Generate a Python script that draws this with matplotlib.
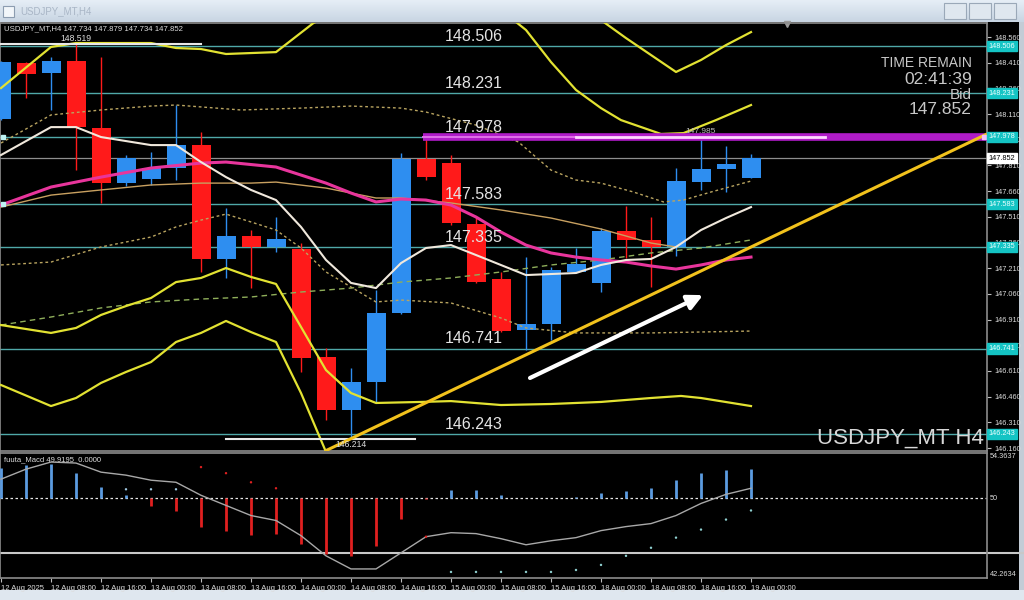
import matplotlib
matplotlib.use("Agg")
import matplotlib.pyplot as plt
import numpy as np
from matplotlib.patches import Rectangle

plt.rcParams["font.family"] = ["Liberation Sans", "DejaVu Sans"]

W, H = 1024, 600

# ---- USDJPY_MT H4 candles, bar 0 = 12 Aug 2025 00:00 ----
opens = [148.081, 148.408, 148.350, 148.420, 148.029, 147.707, 147.731, 147.795,
         147.929, 147.264, 147.398, 147.334, 147.322, 146.691, 146.382, 146.545,
         146.948, 147.848, 147.824, 147.468, 147.147, 146.849, 146.884, 147.188,
         147.124, 147.427, 147.375, 147.334, 147.713, 147.789, 147.734]
highs = [148.418, 148.414, 148.443, 148.519, 148.443, 147.871, 147.888, 148.163,
         148.005, 147.561, 147.433, 147.509, 147.357, 146.744, 146.627, 147.083,
         147.883, 147.976, 147.871, 147.509, 147.188, 147.275, 147.217, 147.328,
         147.445, 147.573, 147.509, 147.795, 147.985, 147.924, 147.879]
lows = [148.075, 148.204, 148.134, 147.783, 147.591, 147.690, 147.696, 147.725,
        147.188, 147.153, 147.094, 147.304, 146.604, 146.324, 146.214, 146.423,
        146.940, 147.725, 147.462, 147.124, 146.837, 146.732, 146.791, 147.182,
        147.071, 147.270, 147.100, 147.281, 147.667, 147.655, 147.734]
closes = [148.414, 148.344, 148.420, 148.034, 147.707, 147.853, 147.795, 147.929,
          147.264, 147.398, 147.334, 147.380, 146.686, 146.382, 146.545, 146.948,
          147.848, 147.742, 147.474, 147.129, 146.843, 146.884, 147.199, 147.234,
          147.427, 147.375, 147.334, 147.719, 147.789, 147.818, 147.852]

# ---- indicator lines (bar index, price) ----
fast_x = [0, 2, 3, 4, 6, 7, 8, 9, 10, 11, 12, 13, 14, 15, 16, 17, 18, 19, 21, 23, 24, 25, 26, 27, 28, 29, 30]
fast_y = [147.871, 148.034, 148.034, 147.976, 147.929, 147.929, 147.830, 147.742, 147.667, 147.608,
          147.451, 147.258, 147.124, 147.094, 147.240, 147.328, 147.345, 147.287, 147.170, 147.182,
          147.229, 147.258, 147.264, 147.334, 147.433, 147.503, 147.567]

ma_x = [0, 2, 4, 6, 8, 9, 11, 13, 14, 15, 16, 17, 18, 19, 20, 21, 22, 23, 24, 25, 26, 27, 28, 29, 30]
ma_y = [147.579, 147.684, 147.742, 147.795, 147.824, 147.830, 147.801, 147.707, 147.649, 147.597,
        147.614, 147.608, 147.579, 147.509, 147.421, 147.345, 147.299, 147.275, 147.258, 147.246,
        147.223, 147.205, 147.229, 147.258, 147.275]

slow_x = [0, 2, 4, 6, 8, 10, 11, 13, 15, 16, 18, 20, 22, 24, 26, 27]
slow_y = [147.567, 147.637, 147.667, 147.696, 147.707, 147.707, 147.713, 147.678, 147.620, 147.620,
          147.591, 147.550, 147.503, 147.439, 147.357, 147.334]

mid_x = [0, 2, 4, 6, 8, 10, 12, 14, 16, 18, 20, 22, 24, 26, 28, 30]
mid_y = [146.878, 146.925, 146.978, 147.013, 147.030, 147.042, 147.071, 147.094, 147.129, 147.153,
         147.188, 147.229, 147.258, 147.299, 147.328, 147.375]

up1_x = [0, 2, 4, 6, 7, 9.6, 12, 14, 16, 17, 19, 20.7, 22, 23, 24, 25.3, 26.5, 27.3, 28.4, 30]
up1_y = [147.941, 148.105, 148.134, 148.157, 148.163, 148.134, 148.145, 148.157, 148.145, 148.122,
         148.046, 147.947, 147.783, 147.725, 147.707, 147.655, 147.597, 147.608, 147.655, 147.719]

dn1_x = [0, 2, 4, 6, 7, 8, 9, 10, 11, 12, 13, 14, 15, 16, 18, 20, 21, 23, 26, 30]
dn1_y = [147.229, 147.246, 147.334, 147.392, 147.451, 147.491, 147.526, 147.480, 147.433, 147.328,
         147.188, 147.100, 147.013, 147.024, 147.007, 146.919, 146.861, 146.832, 146.832, 146.843]

up2_x = [0, 2, 3, 6, 7, 8, 9, 11, 12.5, 14, 17, 20, 21, 22, 23, 24, 24.8, 26.4, 27.3, 28.6, 30]
up2_y = [148.262, 148.502, 148.525, 148.525, 148.496, 148.490, 148.461, 148.472, 148.642, 148.747,
         148.776, 148.718, 148.601, 148.414, 148.251, 148.145, 148.075, 147.994, 147.999, 148.075, 148.163]

up3_x = [23, 24, 25, 26, 27, 28, 29, 30]
up3_y = [148.720, 148.659, 148.554, 148.455, 148.356, 148.426, 148.513, 148.589]

dn2_x = [0, 2, 3, 4, 5, 6, 7, 8, 9, 10, 11, 12, 13, 14, 15, 16.8, 18, 20, 22, 24, 26, 27.2, 28, 30]
dn2_y = [146.878, 146.832, 146.861, 146.937, 146.989, 147.036, 147.129, 147.153, 147.211, 147.159,
         147.118, 146.867, 146.615, 146.481, 146.423, 146.429, 146.434, 146.411, 146.417, 146.429,
         146.452, 146.464, 146.452, 146.405]

dn3_x = [0, 2, 3, 4, 5, 6, 7, 8, 9, 10, 11, 12, 13, 14]
dn3_y = [146.528, 146.405, 146.452, 146.540, 146.604, 146.662, 146.779, 146.832, 146.902, 146.837,
         146.779, 146.481, 146.137, 145.915]

# horizontal levels drawn by the user
levels = [148.506, 148.231, 147.978, 147.583, 147.335, 146.741, 146.243]
marked_levels = [147.978, 147.583]
resistance = 147.978
res_start = 16.88
bid = 147.852
high_mark, high_bar = 148.519, 3
low_mark, low_bar = 146.214, 14
high_line_x = [-0.04, 8.0]
low_line_x = [9.0, 16.56]
peak_label = 147.985

trend_x = [12.96, 39.44]
trend_y = [146.142, 147.994]
arrow_x = [21.16, 28.08]
arrow_y = [146.569, 147.053]

price_ticks = [148.560, 148.410, 148.260, 148.110, 147.960, 147.810, 147.660, 147.510, 147.360,
               147.210, 147.060, 146.910, 146.760, 146.610, 146.460, 146.310, 146.160]

# ---- oscillator sub-window (fuuta_Macd) ----
osc_bars = [52.90, 53.19, 53.29, 52.41, 51.05, 50.27, 49.19, 48.71, 47.24, 46.85, 46.46, 46.56,
            45.58, 44.61, 44.41, 45.39, 48.02, 49.90, 50.75, 50.75, 50.27, 50.05, 50.05, 50.10,
            50.46, 50.66, 50.95, 51.73, 52.41, 52.71, 52.80]
osc_line = [51.83, 52.80, 53.49, 53.39, 52.51, 52.22, 51.73, 51.53, 50.27, 49.29, 48.31, 47.83,
            46.36, 44.41, 43.14, 43.14, 44.70, 46.26, 46.65, 46.56, 46.07, 45.48, 45.87, 46.17,
            46.85, 47.24, 47.53, 48.31, 49.48, 50.36, 50.95]
osc_dot_x = [5, 6, 7, 8, 9, 10, 11, 17, 18, 19, 20, 21, 22, 23, 24, 25, 26, 27, 28, 29, 30]
osc_dot_y = [50.85, 50.85, 50.85, 53.00, 52.41, 51.53, 50.95, 46.26, 42.85, 42.85, 42.85, 42.85,
             42.85, 43.04, 43.53, 44.41, 45.19, 46.17, 46.95, 47.92, 48.80]
osc_level = 44.70
osc_min, osc_mid, osc_max = 42.2634, 50.0, 54.3637

tick_bars = [0, 2, 4, 6, 8, 10, 12, 14, 16, 18, 20, 22, 24, 26, 28, 30]
tick_labels = ["12 Aug 2025", "12 Aug 08:00", "12 Aug 16:00", "13 Aug 00:00", "13 Aug 08:00",
               "13 Aug 16:00", "14 Aug 00:00", "14 Aug 08:00", "14 Aug 16:00", "15 Aug 00:00",
               "15 Aug 08:00", "15 Aug 16:00", "18 Aug 00:00", "18 Aug 08:00", "18 Aug 16:00",
               "19 Aug 00:00"]

BULL = "#2e8ef0"
BEAR = "#ff1a1a"
LEVEL = "#4fa8a8"
BOX = "#14c4c4"
YEL = "#e2e232"
TXT = "#dcdcdc"


def frect(x0, y0, x1, y1):
    return [x0 / W, 1 - y1 / H, (x1 - x0) / W, (y1 - y0) / H]


def blank(a, color):
    a.set_facecolor(color)
    a.set_xticks([])
    a.set_yticks([])
    for s in a.spines.values():
        s.set_visible(False)


fig = plt.figure(figsize=(W / 100, H / 100), dpi=100, facecolor="black")

# window chrome
bar = fig.add_axes(frect(0, 0, W, 22))
bar.imshow(np.linspace(0, 1, 32).reshape(-1, 1), cmap=matplotlib.colors.LinearSegmentedColormap.from_list(
    "t", ["#e6eef6", "#c8d5e3"]), aspect="auto", extent=[0, 1, 0, 1])
bar.axis("off")
bar.text(20 / W, 0.5, "USDJPY_MT,H4", color="#a9b6c6", fontsize=7, va="center", transform=bar.transAxes)
bar.add_patch(Rectangle((3 / W, 0.25), 11 / W, 0.5, facecolor="#f2f6fa", edgecolor="#8c9cb0", lw=0.8,
                        transform=bar.transAxes))
for bx in (944, 969, 994):
    bar.add_patch(Rectangle((bx / W, 0.15), 22 / W, 0.7, facecolor="#dfe7ef", edgecolor="#9aa8b8", lw=0.8,
                            transform=bar.transAxes))
blank(fig.add_axes(frect(0, 590, W, H)), "#dfe7ef")
blank(fig.add_axes(frect(1019, 22, W, 590)), "#c3ccd6")

# ---- main price window ----
ax = fig.add_axes(frect(0, 23, 987, 451))
ax.set_facecolor("black")
ax.set_xlim(-0.04, 39.44)
ax.set_ylim(146.1425, 148.642)
for s in ax.spines.values():
    s.set_color("#8c8c8c")
    s.set_linewidth(1.2)
ax.set_xticks([])
ax.yaxis.tick_right()
ax.set_yticks(price_ticks)
ax.set_yticklabels([f"{v:.3f}" for v in price_ticks])
ax.tick_params(axis="y", colors="#bdbdbd", labelcolor=TXT, labelsize=5.3, length=3, width=0.8, pad=2)

for lv in levels:
    ax.axhline(lv, color=LEVEL, lw=1.0, zorder=2)
    ax.annotate(f"{lv:.3f}", (17.76, lv), xytext=(0, 1.5), textcoords="offset points",
                color="#e4e4e4", fontsize=11.5, va="bottom", ha="left", zorder=9)
ax.axhline(bid, color="#8e8e8e", lw=0.9, zorder=2)
for lv in marked_levels:
    ax.plot([0.06], [lv], marker="s", ms=3, color="#bff4f4", zorder=9, clip_on=False)

for i, (o, h, l, c) in enumerate(zip(opens, highs, lows, closes)):
    col = BULL if c >= o else BEAR
    ax.vlines(i, l, h, color=col, lw=1.0, zorder=3)
    lo, hi = min(o, c), max(o, c)
    ax.add_patch(Rectangle((i - 0.38, lo), 0.76, max(hi - lo, 0.004), facecolor=col, edgecolor=col,
                           lw=0, zorder=3))

ax.plot(mid_x, mid_y, color="#8fae5a", lw=1.0, ls=(0, (4, 3)), zorder=4)
ax.plot(up1_x, up1_y, color="#b9a460", lw=1.0, ls=(0, (2, 2)), zorder=4)
ax.plot(dn1_x, dn1_y, color="#b9a460", lw=1.0, ls=(0, (2, 2)), zorder=4)
for xs, ys in ((up2_x, up2_y), (up3_x, up3_y), (dn2_x, dn2_y), (dn3_x, dn3_y)):
    ax.plot(xs, ys, color=YEL, lw=1.6, zorder=4)
ax.plot(slow_x, slow_y, color="#c8a060", lw=1.0, zorder=4)
ax.plot(ma_x, ma_y, color="#e8359c", lw=2.2, zorder=5)
ax.plot(fast_x, fast_y, color="#f0e8dc", lw=1.5, zorder=5)

# resistance band
ax.plot([res_start, 39.44], [resistance, resistance], color="#b01cc8", lw=5.5, zorder=6,
        solid_capstyle="butt")
ax.plot([res_start, 23.0], [resistance, resistance], color="#e070e8", lw=1.4, zorder=7)
ax.plot([23.0, 32.96], [resistance, resistance], color="#ffd8ff", lw=2.0, zorder=7)
ax.plot([39.3], [resistance], marker="s", ms=3.5, color="#f0c0f8", zorder=9, clip_on=False)

ax.plot(trend_x, trend_y, color="#f2c21c", lw=2.2, zorder=7, solid_capstyle="butt")
ax.annotate("", xy=(arrow_x[1], arrow_y[1]), xytext=(arrow_x[0], arrow_y[0]),
            arrowprops=dict(arrowstyle="-|>,head_length=0.9,head_width=0.45", color="white", lw=3,
                            shrinkA=0, shrinkB=0), zorder=8)

ax.plot(high_line_x, [high_mark, high_mark], color="#e8e8e8", lw=1.5, zorder=6)
ax.plot(low_line_x, [low_mark, low_mark], color="#e8e8e8", lw=1.5, zorder=6)
ax.annotate(f"{high_mark:.3f}", (high_bar, high_mark), xytext=(0, 0.5), textcoords="offset points",
            color=TXT, fontsize=6.2, ha="center", va="bottom", zorder=9)
ax.annotate(f"{low_mark:.3f}", (low_bar, low_mark), xytext=(0, -1), textcoords="offset points",
            color=TXT, fontsize=6.2, ha="center", va="top", zorder=9)
ax.annotate(f"{peak_label:.3f}", (28, peak_label), xytext=(0, 0.5), textcoords="offset points",
            color="#bdbdbd", fontsize=6, ha="center", va="bottom", zorder=9)

ax.text(0.004, (451 - 29) / 428, "USDJPY_MT,H4 {:.3f} {:.3f} {:.3f} {:.3f}".format(
    opens[-1], highs[-1], lows[-1], closes[-1]), transform=ax.transAxes, color=TXT, fontsize=5.6,
    va="center", ha="left", zorder=9)
ax.plot([0.797], [0.997], marker="v", color="#9a9a9a", ms=5, transform=ax.transAxes, clip_on=False)

# price-axis boxes
ytr = ax.get_yaxis_transform()
for lv in levels:
    ax.text(1.0 + 1.5 / 987, lv, f"{lv:.3f}", transform=ytr, fontsize=5.3, color="#eaffff",
            va="center", ha="left", clip_on=False, zorder=10,
            bbox=dict(boxstyle="square,pad=0.22", facecolor=BOX, edgecolor=BOX))
ax.text(1.0 + 1.5 / 987, bid, f"{bid:.3f}", transform=ytr, fontsize=5.3, color="black",
        va="center", ha="left", clip_on=False, zorder=10,
        bbox=dict(boxstyle="square,pad=0.22", facecolor="white", edgecolor="white"))

fig.text(972 / W, 1 - 63 / H, "TIME REMAIN", color="#c8c8c8", fontsize=10, ha="right", va="center")
fig.text(972 / W, 1 - 79 / H, "02:41:39", color="#c8c8c8", fontsize=12.5, ha="right", va="center")
fig.text(972 / W, 1 - 95 / H, "Bid", color="#c8c8c8", fontsize=11, ha="right", va="center")
fig.text(972 / W, 1 - 110 / H, f"{bid:.3f}", color="#c8c8c8", fontsize=12.5, ha="right", va="center")
fig.text(984 / W, 1 - 438 / H, "USDJPY_MT H4", color="#d8d8d8", fontsize=16, ha="right", va="center")

# ---- oscillator window ----
ax2 = fig.add_axes(frect(0, 453, 987, 578))
ax2.set_facecolor("black")
ax2.set_xlim(-0.04, 39.44)
ax2.set_ylim(osc_min, osc_max)
for s in ax2.spines.values():
    s.set_color("#8c8c8c")
    s.set_linewidth(1.2)
ax2.axhline(osc_mid, color="#e8e8e8", lw=0.9, ls=(0, (2, 2)), zorder=2)
ax2.axhline(osc_level, xmin=0, xmax=1037 / 987, color="#c8c8c8", lw=1.5, zorder=2, clip_on=False)
for i, v in enumerate(osc_bars):
    ax2.vlines(i, osc_mid, v, color="#5b9be0" if v >= osc_mid else "#e02020", lw=2.0, zorder=3)
ax2.plot(range(len(osc_line)), osc_line, color="#a8a8a8", lw=1.0, zorder=4)
dot_cols = ["#9fc8e0" if x < 8 else ("#e02020" if x < 18 else "#8fd0d0") for x in osc_dot_x]
ax2.scatter(osc_dot_x, osc_dot_y, s=3, c=dot_cols, zorder=5, linewidths=0)
ax2.text(0.004, 0.97, "fuuta_Macd 49.9195  0.0000", transform=ax2.transAxes, color=TXT,
         fontsize=5.5, va="top", ha="left")
ax2.set_yticks([])
ytr2 = ax2.get_yaxis_transform()
ax2.text(1.0 + 3 / 987, osc_max, f"{osc_max:.4f}", transform=ytr2, color=TXT, fontsize=5.3, va="top")
ax2.text(1.0 + 3 / 987, osc_mid, "50", transform=ytr2, color=TXT, fontsize=5.3, va="center")
ax2.text(1.0 + 3 / 987, osc_min, f"{osc_min:.4f}", transform=ytr2, color=TXT, fontsize=5.3, va="bottom")
ax2.set_xticks(tick_bars)
ax2.set_xticklabels(tick_labels, ha="left")
ax2.tick_params(axis="x", colors="#bdbdbd", labelcolor=TXT, labelsize=5.5, length=3, width=0.8, pad=2)

fig.savefig("out.png", dpi=100, facecolor="black")
